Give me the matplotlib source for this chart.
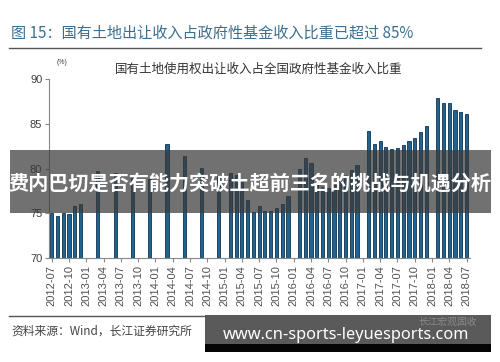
import numpy as np
import pandas as pd
import matplotlib
matplotlib.use('Agg')
import matplotlib.pyplot as plt
from matplotlib.patches import Rectangle

# 月份类别：2012-07 至 2018-07
months = [p.strftime('%Y-%m') for p in pd.period_range('2012-07', '2018-07', freq='M')]

# 国有土地使用权出让收入占全国政府性基金收入比重 (%)，缺失月份为 None
share = [
    75.1, 74.7, 75.1, 74.95, 75.8, 76.1,            # 2012-07 .. 2012-12
    None, None, 79.7, None, None, 79.5,              # 2013-01 .. 2013-06
    None, None, 79.0, None, None, 78.8,              # 2013-07 .. 2013-12
    None, None, 82.8, None, None, 81.45,             # 2014-01 .. 2014-06
    None, None, 80.1, None, None, 79.2,              # 2014-07 .. 2014-12
    None, 79.5, 79.3, 78.5, 76.5, 75.2,              # 2015-01 .. 2015-06
    75.8, 75.3, 75.3, 75.6, 76.1, 76.9,              # 2015-07 .. 2015-12
    None, 80.0, 81.2, 80.6, 78.5, 78.0,              # 2016-01 .. 2016-06
    77.8, 78.2, 78.6, 79.3, 79.9, 80.4,              # 2016-07 .. 2016-12
    None, 84.25, 82.75, 83.1, 82.45, 82.15,          # 2017-01 .. 2017-06
    82.35, 82.65, 83.1, 83.4, 84.05, 84.75,          # 2017-07 .. 2017-12
    None, 87.85, 87.35, 87.35, 86.55, 86.3,          # 2018-01 .. 2018-06
    86.05,                                           # 2018-07
]

yticks = [70, 75, 80, 85, 90]

title = '图 15：国有土地出让收入占政府性基金收入比重已超过 85%'
subtitle = '国有土地使用权出让收入占全国政府性基金收入比重'
source = '资料来源：Wind，长江证券研究所'
banner = '费内巴切是否有能力突破土超前三名的挑战与机遇分析'
site = 'www.cn-sports-leyuesports.com'

W, H = 500, 362
plt.rcParams['font.family'] = ['Liberation Sans', 'Noto Sans CJK SC']

fig = plt.figure(figsize=(W / 100, H / 100), dpi=100)
fig.patch.set_facecolor('white')


def fx(px):
    return px / W


def fy(py):
    return 1 - py / H


ax = fig.add_axes([fx(49.3), fy(258.3), fx(470 - 49.3), (258.3 - 79) / H])

x = np.arange(len(months))
vals = np.array([np.nan if v is None else v for v in share], dtype=float)
ax.bar(x, vals - 70, bottom=70, width=0.55, color='#22628f',
       edgecolor='#0e3453', linewidth=0.6)

ax.set_ylim(70, 90)
ax.set_xlim(-0.42, len(months) - 0.4)
ax.set_yticks(yticks)
ax.set_yticklabels([str(t) for t in yticks], fontsize=8, color='#404040')
ax.set_xticks(x[::3])
ax.set_xticklabels(months[::3], rotation=90, fontsize=8, color='#505050')
for s in ['top', 'right']:
    ax.spines[s].set_visible(False)
for s in ['left', 'bottom']:
    ax.spines[s].set_color('#888888')
    ax.spines[s].set_linewidth(0.8)
ax.tick_params(axis='both', color='#888888', length=3, width=0.8, pad=2)

# 标题与说明文字
fig.text(fx(11), fy(33), title, fontsize=10.9, color='#3a6f8f',
         family=['Noto Sans CJK SC'], va='center', ha='left')
fig.add_artist(plt.Line2D([fx(9), fx(481)], [fy(48), fy(48)], color='#555555', linewidth=1))
fig.text(fx(57), fy(63), '(%)', fontsize=5, color='#404040', va='center', ha='left')
fig.text(fx(259), fy(69), subtitle, fontsize=9, color='#333333',
         family=['Noto Sans CJK SC'], va='center', ha='center')
fig.add_artist(plt.Line2D([fx(9), fx(481)], [fy(316), fy(316)], color='#555555', linewidth=1))
fig.text(fx(11), fy(331), source, fontsize=8.5, color='#444444',
         family=['Noto Sans CJK SC', 'Liberation Sans'], va='center', ha='left')

# 半透明横幅
fig.add_artist(Rectangle((fx(10), fy(213)), fx(491 - 10), (213 - 150) / H,
                         transform=fig.transFigure, facecolor='#3a3a3a', alpha=0.72,
                         edgecolor='none', zorder=10))
fig.text(fx(250), fy(183), banner, fontsize=14.5, color='white', weight='bold',
         family=['Noto Sans CJK SC'], va='center', ha='center', zorder=11)

# 右下角网址框
fig.add_artist(Rectangle((fx(205), fy(352)), fx(491 - 205), (352 - 315) / H,
                         transform=fig.transFigure, facecolor='#5a5a5a',
                         edgecolor='none', zorder=10))
fig.add_artist(Rectangle((fx(205), fy(352)), fx(491 - 205), (352 - 344) / H,
                         transform=fig.transFigure, facecolor='#050505',
                         edgecolor='none', zorder=10))
fig.text(fx(448), fy(322), '长江宏观固收', fontsize=7, color='#8a8a8a',
         family=['Noto Sans CJK SC'], va='center', ha='center', zorder=11)
fig.text(fx(346), fy(335), site, fontsize=11.8, color='white', weight='bold',
         family=['Noto Sans', 'DejaVu Sans'], va='center', ha='center', zorder=11)

fig.savefig('out.png', dpi=100)
